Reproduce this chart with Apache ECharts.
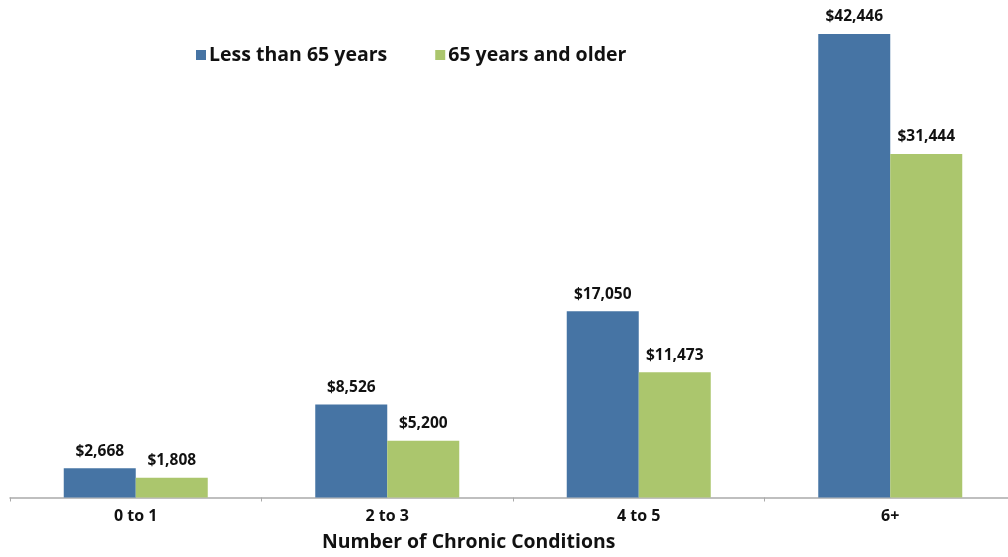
<!DOCTYPE html>
<html><head><meta charset="utf-8">
<script src="https://cdn.jsdelivr.net/npm/echarts@6/dist/echarts.min.js"></script>
<style>html,body{margin:0;padding:0;background:#fff;overflow:hidden}#c{width:1016px;height:557px}</style>
</head><body><div id="c"></div>
<script>
const categories = ['0 to 1', '2 to 3', '4 to 5', '6+'];
const under65 = [2668, 8526, 17050, 42446];
const over65 = [1808, 5200, 11473, 31444];
const seriesNames = ['Less than 65 years', '65 years and older'];
const axisTitle = 'Number of Chronic Conditions';

const FONT = '"Open Sans", Lato, sans-serif';
const fmt = v => '$' + String(v).replace(/\B(?=(\d{3})+(?!\d))/g, ',');
const labelStyle = {
  show: true, position: 'top', distance: 9,
  formatter: p => fmt(p.value),
  fontFamily: FONT, fontWeight: 'bold', fontSize: 15.5, color: '#111'
};
const chart = echarts.init(document.getElementById('c'), null, {renderer: 'canvas'});
chart.setOption({
  animation: false,
  title: {
    text: axisTitle, left: 322, top: 533, padding: 0,
    textStyle: {fontFamily: FONT, fontWeight: 'bold', fontSize: 19.4, color: '#111'}
  },
  legend: {
    left: 196, top: 45, padding: 0, itemWidth: 10, itemHeight: 10, itemGap: 48,
    icon: 'rect',
    textStyle: {fontFamily: FONT, fontWeight: 'bold', fontSize: 19.5, color: '#111', padding: [0,0,0,-2]},
    data: seriesNames
  },
  grid: {left: 10, top: 6, right: 0, bottom: 59.5, containLabel: false},
  xAxis: {
    type: 'category', data: categories,
    axisLine: {lineStyle: {color: '#aaaaaa', width: 1.5}},
    axisTick: {show: true, length: 4, lineStyle: {color: '#aaaaaa'}},
    axisLabel: {fontFamily: FONT, fontWeight: 'bold', fontSize: 16, color: '#111', margin: 11}
  },
  yAxis: {type: 'value', min: 0, max: 45000, show: false, splitLine: {show: false}},
  series: [
    {name: seriesNames[0], type: 'bar', data: under65, barWidth: 72, barGap: '0%',
     itemStyle: {color: '#4674a4'}, label: labelStyle},
    {name: seriesNames[1], type: 'bar', data: over65, barWidth: 72, barGap: '0%',
     itemStyle: {color: '#abc66d'}, label: labelStyle}
  ]
});
</script></body></html>
